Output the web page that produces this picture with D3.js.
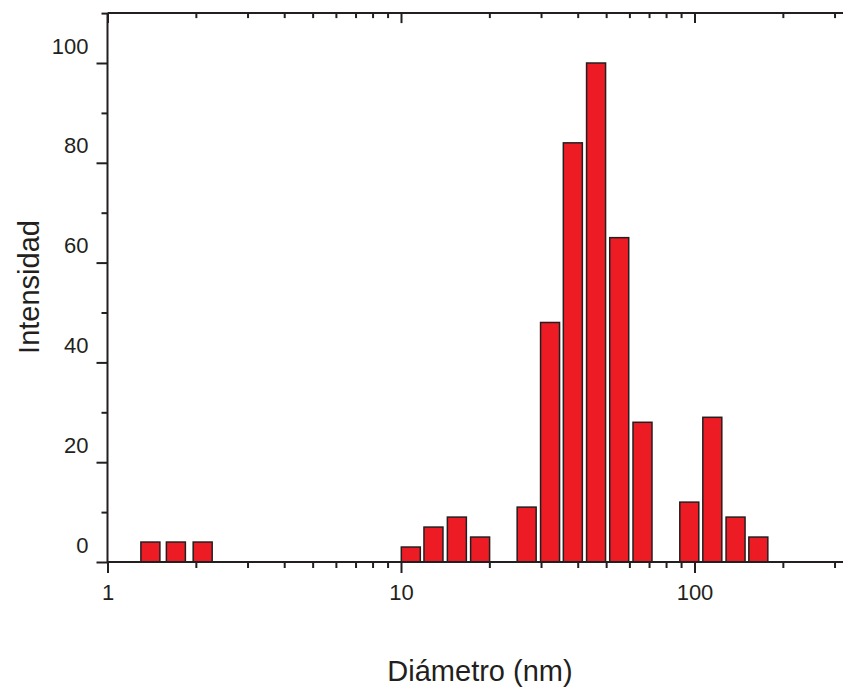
<!DOCTYPE html>
<html>
<head>
<meta charset="utf-8">
<script src="https://cdn.jsdelivr.net/npm/d3@7"></script>
<style>
  body { margin: 0; background: #fff; }
  text { font-family: "Liberation Sans", Arial, sans-serif; fill: #231f20; }
</style>
</head>
<body>
<div id="chart"></div>
<script>
// diameter (nm) of each bin centre and its intensity
const diameters = [1.40, 1.71, 2.11, 10.8, 12.9, 15.5, 18.6, 26.8, 32.2, 38.5, 46.2, 55.4, 66.5, 96.0, 115, 138, 165];
const intensities = [4, 4, 4, 3, 7, 9, 5, 11, 48, 84, 100, 65, 28, 12, 29, 9, 5];

const xMajor = [1, 10, 100];
const xMinor = [2, 3, 4, 5, 6, 7, 8, 9, 20, 30, 40, 50, 60, 70, 80, 90, 200, 300];
const yMajor = [0, 20, 40, 60, 80, 100];
const yMinor = [10, 30, 50, 70, 90, 110];

const chartW = 843, chartH = 689,
  plotLeft = 107.5, plotBottom = 562,
  decade = 293.5,
  barW = 19,
  ink = '#231f20';

const x = d3.scaleLog().domain([1, 330]).range([plotLeft, plotLeft + decade * Math.log10(330)]);
const y = d3.scaleLinear().domain([0, 110]).range([plotBottom, plotBottom - 110 * (plotBottom - 63) / 100]);

const svg = d3.select('#chart')
  .append('svg')
  .attr('width', chartW)
  .attr('height', chartH);

const rows = diameters.map((d, i) => ({ d: d, v: intensities[i] }));

svg.append('g')
  .selectAll('rect')
  .data(rows)
  .join('rect')
  .attr('x', r => x(r.d) - barW / 2)
  .attr('width', barW)
  .attr('y', r => y(r.v))
  .attr('height', r => y(0) - y(r.v))
  .attr('fill', '#ed1c24')
  .attr('stroke', ink)
  .attr('stroke-width', 1.5);

function style(g) {
  g.select('.domain').remove();
  g.selectAll('line').attr('stroke', ink).attr('stroke-width', 2);
}

// bottom axis, ticks outward
svg.append('g')
  .attr('transform', `translate(0,${plotBottom})`)
  .call(d3.axisBottom(x).tickValues(xMajor).tickSize(11).tickFormat(d3.format('d')))
  .call(style)
  .call(g => g.selectAll('text')
    .attr('y', 38).attr('dy', 0)
    .attr('font-size', 22).style('fill', ink));

svg.append('g')
  .attr('transform', `translate(0,${plotBottom})`)
  .call(d3.axisBottom(x).tickValues(xMinor).tickSize(6).tickFormat(''))
  .call(style);

// top axis, ticks inward
svg.append('g')
  .attr('transform', `translate(0,${y(110)})`)
  .call(d3.axisBottom(x).tickValues(xMajor).tickSize(10).tickFormat(''))
  .call(style);

svg.append('g')
  .attr('transform', `translate(0,${y(110)})`)
  .call(d3.axisBottom(x).tickValues(xMinor).tickSize(5).tickFormat(''))
  .call(style);

// left axis, ticks outward, labels raised above ticks
svg.append('g')
  .attr('transform', `translate(${plotLeft},0)`)
  .call(d3.axisLeft(y).tickValues(yMajor).tickSize(11))
  .call(style)
  .call(g => g.selectAll('text')
    .attr('x', -19).attr('y', -10).attr('dy', 0)
    .attr('font-size', 22).style('fill', ink));

svg.append('g')
  .attr('transform', `translate(${plotLeft},0)`)
  .call(d3.axisLeft(y).tickValues(yMinor).tickSize(6).tickFormat(''))
  .call(style);

// right axis, ticks inward
svg.append('g')
  .attr('transform', `translate(${x(330)},0)`)
  .call(d3.axisLeft(y).tickValues(yMajor.filter(v => v > 0)).tickSize(-5).tickFormat(''))
  .call(style);

// frame lines
svg.append('line')
  .attr('x1', plotLeft).attr('x2', x(330))
  .attr('y1', plotBottom).attr('y2', plotBottom)
  .attr('stroke', ink).attr('stroke-width', 2);
svg.append('line')
  .attr('x1', plotLeft).attr('x2', x(330))
  .attr('y1', y(110)).attr('y2', y(110))
  .attr('stroke', ink).attr('stroke-width', 2);
svg.append('line')
  .attr('x1', plotLeft).attr('x2', plotLeft)
  .attr('y1', y(110)).attr('y2', plotBottom)
  .attr('stroke', ink).attr('stroke-width', 2);

svg.append('text')
  .attr('x', 480)
  .attr('y', 681)
  .attr('text-anchor', 'middle')
  .attr('font-size', 29)
  .text('Diámetro (nm)');

svg.append('text')
  .attr('transform', 'translate(39,287) rotate(-90)')
  .attr('text-anchor', 'middle')
  .attr('font-size', 29)
  .text('Intensidad');
</script>
</body>
</html>
